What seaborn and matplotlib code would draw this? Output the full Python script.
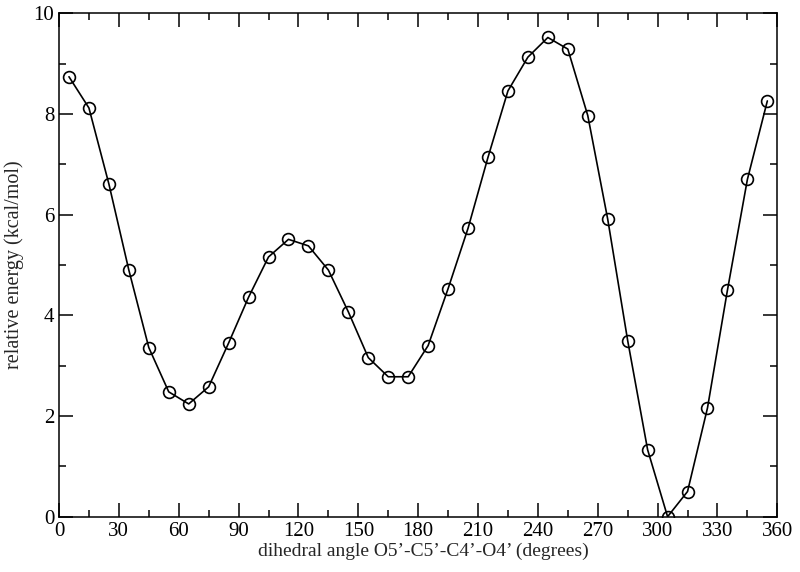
import numpy as np
import pandas as pd
import matplotlib
matplotlib.use('Agg')
import matplotlib.pyplot as plt
import seaborn as sns
from matplotlib.ticker import MultipleLocator

# dihedral scan values
angles = [5, 15, 25, 35, 45, 55, 65, 75, 85, 95, 105, 115,
          125, 135, 145, 155, 165, 175, 185, 195, 205, 215, 225, 235,
          245, 255, 265, 275, 285, 295, 305, 315, 325, 335, 345, 355]
energies = [8.74, 8.12, 6.61, 4.90, 3.36, 2.48, 2.24, 2.58, 3.45, 4.36, 5.16, 5.51,
            5.38, 4.90, 4.07, 3.16, 2.78, 2.78, 3.40, 4.53, 5.73, 7.14, 8.46, 9.13,
            9.52, 9.29, 7.97, 5.91, 3.50, 1.33, 0.00, 0.50, 2.16, 4.50, 6.70, 8.26]

df = pd.DataFrame({'angle': angles, 'energy': energies})

sns.set_style('ticks')
plt.rcParams['font.family'] = ['Liberation Serif', 'DejaVu Serif']

fig = plt.figure(figsize=(8, 5.72), dpi=100)
ax = fig.add_axes([0.07375, 0.0967, 0.8979, 0.88])

sns.lineplot(data=df, x='angle', y='energy', ax=ax, color='black',
             linewidth=1.2, marker='o', markersize=8.5,
             markerfacecolor='none', markeredgecolor='black', markeredgewidth=1.2)

ax.set_xlim(0, 360)
ax.set_ylim(0, 10)
ax.xaxis.set_major_locator(MultipleLocator(30))
ax.xaxis.set_minor_locator(MultipleLocator(15))
ax.yaxis.set_major_locator(MultipleLocator(2))
ax.yaxis.set_minor_locator(MultipleLocator(1))
ax.tick_params(which='both', direction='in', top=True, right=True,
               width=1.1, labelsize=15, colors='black')
ax.tick_params(which='major', length=10)
ax.tick_params(which='minor', length=5)
ax.tick_params(axis='x', pad=4)
for s in ax.spines.values():
    s.set_linewidth(1.1)
    s.set_color('black')

ax.set_xlabel('dihedral angle O5\u2019-C5\u2019-C4\u2019-O4\u2019 (degrees)', fontsize=14, labelpad=1)
ax.xaxis.label.set_x(0.507)
ax.set_ylabel('relative energy (kcal/mol)', fontsize=14.5, labelpad=7)

fig.savefig('out.png', dpi=100)
